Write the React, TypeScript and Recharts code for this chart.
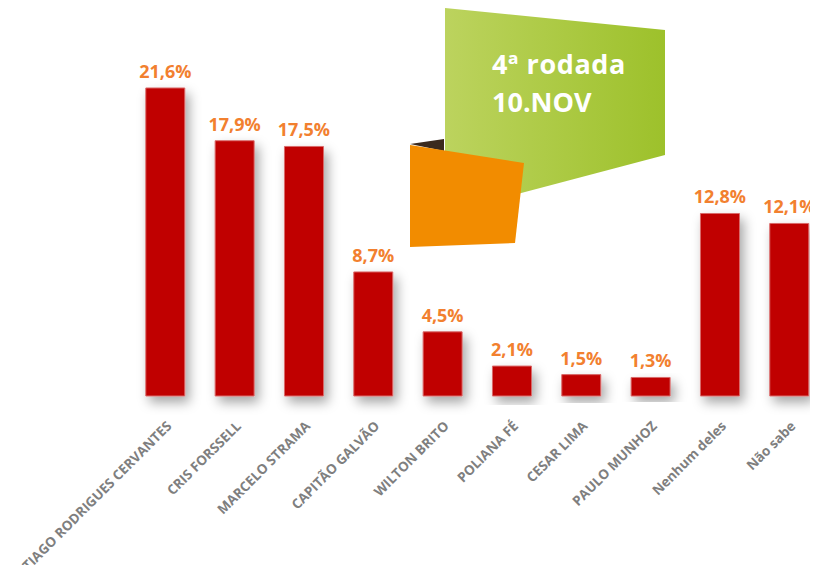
import React from "react";
import { BarChart, Bar, XAxis, YAxis, LabelList } from "recharts";

const categories = [
  "TIAGO RODRIGUES CERVANTES",
  "CRIS FORSSELL",
  "MARCELO STRAMA",
  "CAPITÃO GALVÃO",
  "WILTON BRITO",
  "POLIANA FÉ",
  "CESAR LIMA",
  "PAULO MUNHOZ",
  "Nenhum deles",
  "Não sabe",
];
const values = [21.6, 17.9, 17.5, 8.7, 4.5, 2.1, 1.5, 1.3, 12.8, 12.1];
const badgeLines = ["4ª rodada", "10.NOV"];

const data = categories.map((name, i) => ({ name, value: values[i] }));

const FONT = "'Open Sans', 'DejaVu Sans', sans-serif";

const fmt = (v: any) => `${String(v).replace(".", ",")}%`;

const CategoryTick = (props: any) => {
  const { x, y, payload } = props;
  return (
    <g transform={`translate(${x + 7},${y + 23})`}>
      <text
        x={0}
        y={0}
        textAnchor="end"
        transform="rotate(-45)"
        fill="#7f7f7f"
        fontFamily={FONT}
        fontWeight={700}
        fontSize={13.5}
      >
        {payload.value}
      </text>
    </g>
  );
};

export default function App() {
  return (
    <div style={{ width: 830, height: 557, position: "relative", background: "#fff" }}>
      <style>{`html, body { overflow: hidden; }`}</style>
      <BarChart
        width={830}
        height={557}
        data={data}
        margin={{ top: 31.5, left: 122.8, right: 13.9, bottom: 19 }}
        barCategoryGap={0}
      >
        <defs>
          <filter id="barShadow" x="-60%" y="-20%" width="220%" height="150%">
            <feDropShadow dx="4" dy="6" stdDeviation="6" floodColor="#000" floodOpacity="0.35" />
          </filter>
        </defs>
        <XAxis
          dataKey="name"
          interval={0}
          axisLine={false}
          tickLine={false}
          height={150}
          tick={<CategoryTick />}
        />
        <YAxis hide domain={[0, 25]} />
        <Bar
          dataKey="value"
          fill="#c00000"
          stroke="#d96a6a"
          strokeWidth={1}
          barSize={39}
          isAnimationActive={false}
          style={{ filter: "url(#barShadow)" }}
        >
          <LabelList
            dataKey="value"
            position="top"
            offset={10}
            formatter={fmt}
            fill="#f2802f"
            fontFamily={FONT}
            fontWeight={700}
            fontSize={18}
          />
        </Bar>
      </BarChart>
      <svg
        width={810}
        height={557}
        style={{ position: "absolute", left: 0, top: 0, pointerEvents: "none" }}
      >
        <defs>
          <linearGradient id="greenGrad" x1="0" y1="0" x2="1" y2="0">
            <stop offset="0%" stopColor="#bcd35e" />
            <stop offset="100%" stopColor="#9dc12b" />
          </linearGradient>
        </defs>
        <polygon points="437,0 657,22 657,147 437,205" fill="url(#greenGrad)" />
        <polygon points="402,136 436,131 436,143" fill="#3b2a1e" />
        <polygon points="402,137 516,155 507,235 402,239" fill="#f28c00" />
        <text x={484} y={66} fill="#fff" fontFamily={FONT} fontWeight={700} fontSize={27} letterSpacing={0.6}>
          {badgeLines[0]}
        </text>
        <text x={484} y={104} fill="#fff" fontFamily={FONT} fontWeight={700} fontSize={27}>
          {badgeLines[1]}
        </text>
      </svg>
    </div>
  );
}
